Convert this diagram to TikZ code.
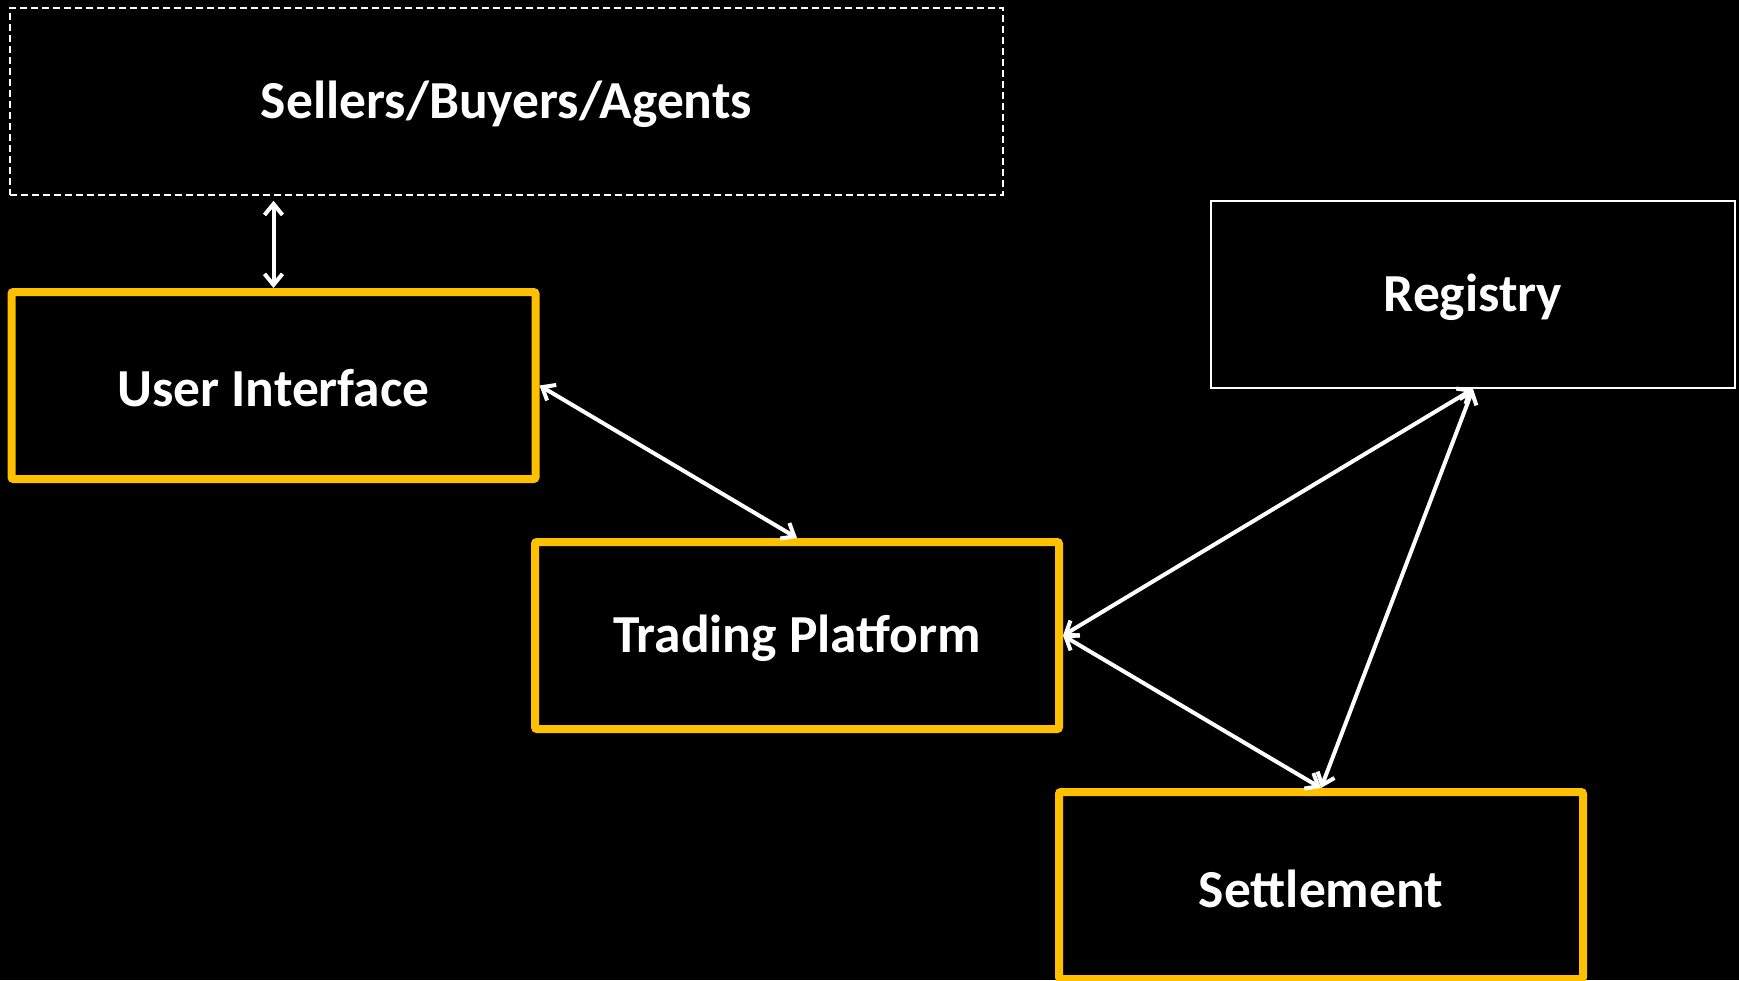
\documentclass[tikz,border=0pt]{standalone}
\usepackage{fontspec}
\setmainfont{Carlito}
\usetikzlibrary{arrows.meta}
\definecolor{accent}{HTML}{FFC000}
\newcommand{\lowtxt}[1]{\raisebox{-3pt}[\height][\depth]{#1}}
\tikzset{
  boxbase/.style={rectangle, minimum width=524pt, minimum height=187pt, inner sep=0pt,
    font=\fontsize{53.5}{64}\selectfont\bfseries, text=white},
  yellowbox/.style={boxbase, draw=accent, line width=8pt, rounded corners=2pt},
  whitebox/.style={boxbase, draw=white, line width=2pt},
  dashbox/.style={boxbase, draw=white, line width=1.6pt, dash pattern=on 7pt off 4pt,
    minimum width=993pt},
  link/.style={draw=white, line width=4pt,
    {Straight Barb[length=11pt,width=18pt]}-{Straight Barb[length=11pt,width=18pt]}}
}
\begin{document}
\begin{tikzpicture}[x=1pt,y=-1pt]
\fill[black] (0,0) rectangle (1739,980);
\useasboundingbox (0,0) rectangle (1739,980);
\node[dashbox]   (sba) at (506.5,101.5) {\lowtxt{Sellers/Buyers/Agents}};
\node[yellowbox] (ui)  at (273.5,385.5) {\lowtxt{User Interface}};
\node[yellowbox] (tp)  at (797,635.5)   {\lowtxt{Trading Platform}};
\node[whitebox]  (reg) at (1473,294.5)  {\lowtxt{Registry}};
\node[yellowbox] (set) at (1321,885.5)  {\lowtxt{Settlement}};
\draw[link] ([yshift=-5pt]sba.south -| ui.north) -- (ui.north);
\draw[link] (ui.east) -- (tp.north);
\draw[link] (tp.east) -- (reg.south);
\draw[link] (tp.east) -- (set.north);
\draw[link] (reg.south) -- (set.north);
\end{tikzpicture}
\end{document}
